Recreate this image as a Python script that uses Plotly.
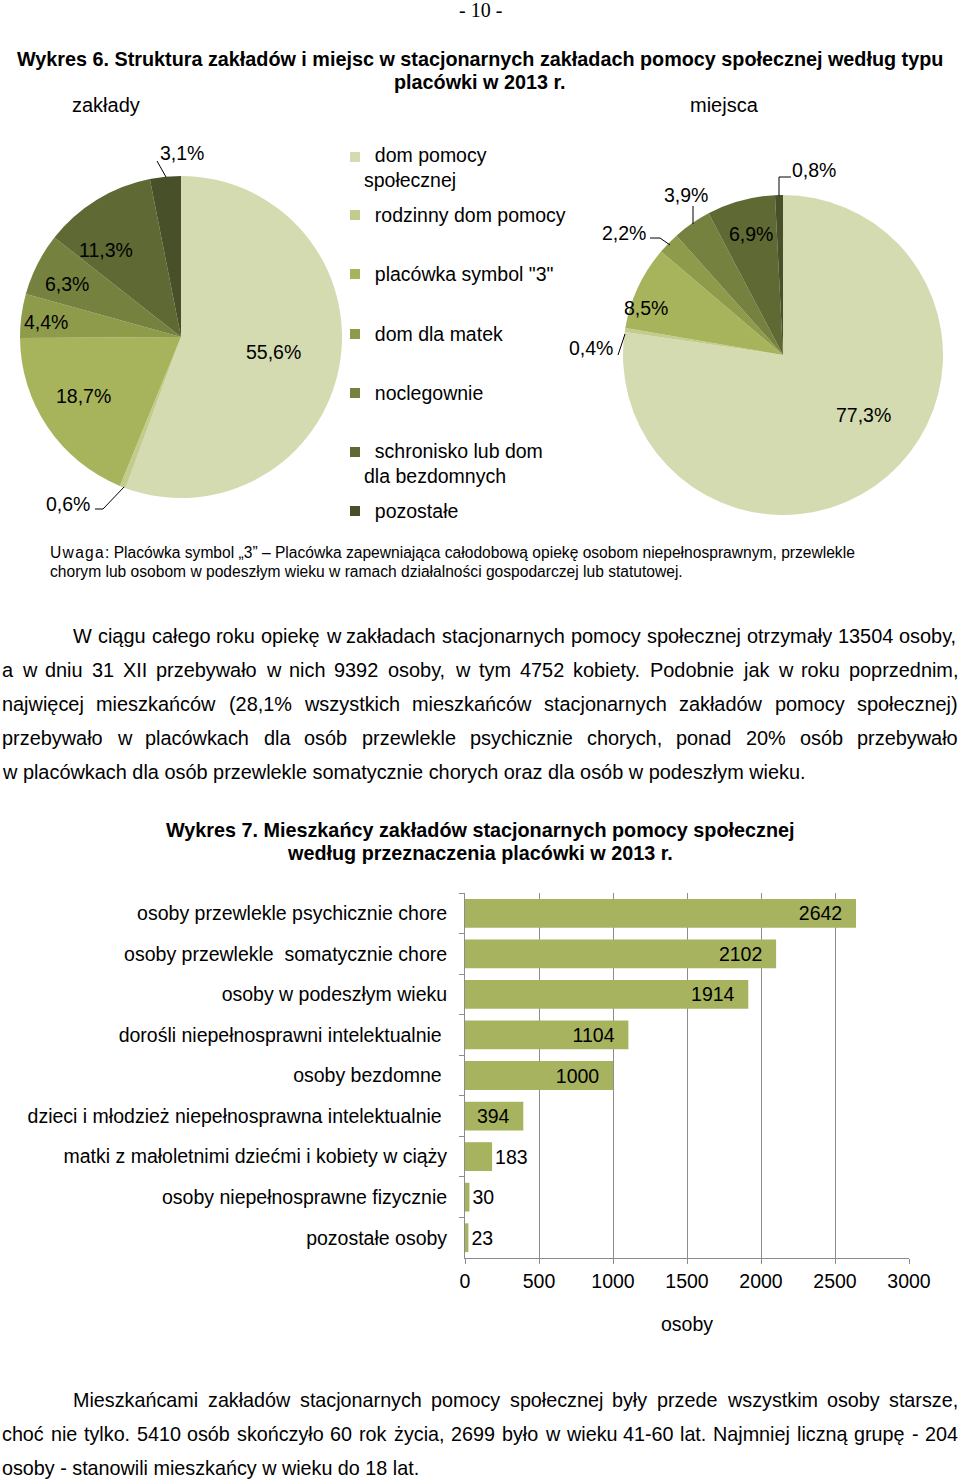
import plotly.graph_objects as go

W, H = 960, 1482

# ---------------- data ----------------
facility_types = ["dom pomocy społecznej", "rodzinny dom pomocy", 'placówka symbol "3"',
                  "dom dla matek", "noclegownie", "schronisko lub dom dla bezdomnych", "pozostałe"]
legend_labels = ["dom pomocy<br>społecznej", "rodzinny dom pomocy", 'placówka symbol "3"',
                 "dom dla matek", "noclegownie", "schronisko lub dom<br>dla bezdomnych", "pozostałe"]
share_zaklady = [55.6, 0.6, 18.7, 4.4, 6.3, 11.3, 3.1]
share_miejsca = [77.3, 0.4, 8.5, 2.2, 3.9, 6.9, 0.8]
slice_colors = ["#D4DBB0", "#C3CC8D", "#A8B45C", "#8E9B4B", "#75823F", "#5E6933", "#48502A"]

resident_groups = ["osoby przewlekle psychicznie chore",
                   "osoby przewlekle\u00a0 somatycznie chore",
                   "osoby w podeszłym wieku",
                   "dorośli niepełnosprawni intelektualnie\u00a0",
                   "osoby bezdomne\u00a0",
                   "dzieci i młodzież niepełnosprawna intelektualnie\u00a0",
                   "matki z małoletnimi dziećmi i kobiety w ciąży",
                   "osoby niepełnosprawne fizycznie",
                   "pozostałe osoby"]
residents = [2642, 2102, 1914, 1104, 1000, 394, 183, 30, 23]
x_ticks = [0, 500, 1000, 1500, 2000, 2500, 3000]
bar_color = "#A7B35F"

# ---------------- text ----------------
title6 = ["Wykres 6. Struktura zakładów i miejsc w stacjonarnych zakładach pomocy społecznej według typu",
          "placówki w 2013 r."]
note_lines = ["U\u200aw\u200aa\u200ag\u200aa\u200a: Placówka symbol „3” – Placówka zapewniająca całodobową opiekę osobom niepełnosprawnym, przewlekle",
              "chorym lub osobom w podeszłym wieku w ramach działalności gospodarczej lub statutowej."]
para1 = ["W ciągu całego roku opiekę w zakładach stacjonarnych pomocy społecznej otrzymały 13504 osoby,",
         "a w dniu 31 XII przebywało w nich 9392 osoby, w tym 4752 kobiety.  Podobnie jak w roku poprzednim,",
         "najwięcej mieszkańców (28,1% wszystkich mieszkańców stacjonarnych zakładów pomocy społecznej)",
         "przebywało w placówkach dla osób przewlekle psychicznie chorych, ponad 20% osób przebywało",
         "w placówkach dla osób przewlekle somatycznie chorych oraz dla osób w podeszłym wieku."]
title7 = ["Wykres 7. Mieszkańcy zakładów stacjonarnych pomocy społecznej",
          "według przeznaczenia placówki w 2013 r."]
para2 = ["Mieszkańcami zakładów stacjonarnych pomocy społecznej były przede wszystkim osoby starsze,",
         "choć nie tylko. 5410 osób skończyło 60 rok życia, 2699 było w wieku 41-60 lat. Najmniej liczną grupę - 204",
         "osoby - stanowili mieszkańcy w wieku do 18 lat."]

SANS = "Liberation Sans, Arial, sans-serif"
SERIF = "Liberation Serif, Times New Roman, serif"
BLACK = "#000000"


def px(x):
    return x / W


def py(y):
    return 1 - y / H


AW = {}
for c, w in zip("abcdefghijklmnopqrstuvwxyz",
                [556, 556, 500, 556, 556, 278, 556, 556, 222, 222, 500, 222, 833, 556, 556, 556, 556, 333, 500, 278, 556, 500, 722, 500, 500, 500]):
    AW[c] = w
for c, w in zip("ABCDEFGHIJKLMNOPQRSTUVWXYZ",
                [667, 667, 722, 722, 667, 611, 778, 722, 278, 500, 667, 556, 833, 722, 778, 667, 778, 722, 667, 611, 722, 667, 944, 667, 667, 611]):
    AW[c] = w
for c in "0123456789":
    AW[c] = 556
AW.update({" ": 278, ",": 278, ".": 278, "(": 333, ")": 333, "%": 889, "-": 333, ":": 278, '"': 355,
           "ą": 556, "ć": 500, "ę": 556, "ł": 222, "ń": 556, "ó": 556, "ś": 500, "ź": 500, "ż": 500})


def tw(s, size):
    return sum(AW.get(c, 556) for c in s) * size / 1000


annotations = []
shapes = []


def ann(text, x, y, size, family=SANS, xanchor="left", bold=False, align="left"):
    annotations.append(dict(text=text, x=px(x), y=py(y), xref="paper", yref="paper",
                            xanchor=xanchor, yanchor="middle", showarrow=False, align=align,
                            borderpad=0, borderwidth=0,
                            font=dict(size=size, family=family, color=BLACK,
                                      weight="bold" if bold else "normal")))


def text_line(text, x0, x1, y, size, justify):
    if not justify:
        ann(text, x0, y, size)
        return
    words = text.split()
    widths = [tw(w, size) for w in words]
    gap = (x1 - x0 - sum(widths)) / (len(words) - 1)
    x = x0
    for w, wd in zip(words, widths):
        ann(w, x, y, size)
        x += wd + gap


# page header / titles
ann("- 10 -", 480, 10, 20, SERIF, xanchor="center")
ann(title6[0], 480, 59, 19.8, xanchor="center", bold=True)
ann(title6[1], 480, 82, 19.8, xanchor="center", bold=True)
ann("zakłady", 106, 105, 20, xanchor="center")
ann("miejsca", 724, 105, 20, xanchor="center")

# pies
fig = go.Figure()
fig.add_trace(go.Pie(values=share_zaklady, labels=facility_types, sort=False, direction="clockwise",
                     rotation=0, marker=dict(colors=slice_colors, line=dict(width=0)),
                     textinfo="none", hoverinfo="skip", showlegend=False,
                     domain=dict(x=[px(20), px(342)], y=[py(498), py(176)])))
fig.add_trace(go.Pie(values=share_miejsca, labels=facility_types, sort=False, direction="clockwise",
                     rotation=0, marker=dict(colors=slice_colors, line=dict(width=0)),
                     textinfo="none", hoverinfo="skip", showlegend=False,
                     domain=dict(x=[px(623), px(943)], y=[py(515), py(195)])))


def pct(v):
    return f"{v:.1f}%".replace(".", ",")


left_label_pos = [(273, 352), (68, 504), (83, 396), (46, 322), (67, 284), (106, 250), (182, 153)]
right_label_pos = [(863, 415), (591, 348), (646, 308), (624, 233), (686, 195), (751, 234), (814, 170)]
for v, (x, y) in zip(share_zaklady, left_label_pos):
    ann(pct(v), x, y, 19.5, xanchor="center")
for v, (x, y) in zip(share_miejsca, right_label_pos):
    ann(pct(v), x, y, 19.5, xanchor="center")

leaders = [[(157, 161), (166, 177)],
           [(95, 509), (103, 509), (124, 487)],
           [(791, 177), (779, 177), (779, 196)],
           [(693, 206), (693, 224)],
           [(650, 238), (660, 238), (670, 245)],
           [(618, 355), (625, 334)]]
for pts in leaders:
    path = "M " + " L ".join(f"{px(x)},{py(y)}" for x, y in pts)
    shapes.append(dict(type="path", path=path, xref="paper", yref="paper",
                       line=dict(color=BLACK, width=1)))

# manual legend
legend_y = [168, 215, 274, 334, 393, 463, 511]
legend_sq_y = [157, 215, 274, 334, 393, 452, 511]
for lab, col, ly, sy in zip(legend_labels, slice_colors, legend_y, legend_sq_y):
    shapes.append(dict(type="rect", xref="paper", yref="paper",
                       x0=px(350), x1=px(360), y0=py(sy + 5), y1=py(sy - 5),
                       fillcolor=col, line=dict(width=0)))
    ann("\u00a0\u00a0" + lab, 364, ly, 19.5)

# note
for i, line in enumerate(note_lines):
    ann(line, 50, 552 + 19 * i, 15.6)

# paragraph 1
for i, line in enumerate(para1):
    x0 = 73 if i == 0 else 2
    text_line(line, x0, 958, 636 + 34 * i, 19.9, i < len(para1) - 1)

# title 7
ann(title7[0], 480, 830, 19.8, xanchor="center", bold=True)
ann(title7[1], 480, 853, 19.8, xanchor="center", bold=True)

# paragraph 2
for i, line in enumerate(para2):
    x0 = 73 if i == 0 else 2
    text_line(line, x0, 958, 1400 + 34 * i, 19.75, i < len(para2) - 1)

# bar chart
fig.add_trace(go.Bar(y=resident_groups, x=residents, orientation="h",
                     marker=dict(color=bar_color, line=dict(width=0)),
                     text=[str(v) + "\u00a0\u00a0" for v in residents], textposition="auto",
                     insidetextanchor="end", textangle=0,
                     insidetextfont=dict(size=19.5, family=SANS, color=BLACK),
                     outsidetextfont=dict(size=19.5, family=SANS, color=BLACK),
                     hoverinfo="skip", showlegend=False, cliponaxis=False))

fig.update_layout(
    template="none",
    width=W, height=H, autosize=False,
    margin=dict(l=0, r=0, t=0, b=0, pad=0, autoexpand=False),
    paper_bgcolor="white", plot_bgcolor="white",
    bargap=0.29,
    xaxis=dict(domain=[px(465), px(909)], range=[0, 3000], tickvals=x_ticks, automargin=False,
               showgrid=True, gridcolor="#8C8C8C", gridwidth=1, zeroline=False,
               showline=True, linecolor="#8C8C8C", linewidth=1,
               ticks="outside", ticklen=5, tickcolor="#8C8C8C",
               tickfont=dict(size=19.5, family=SANS, color=BLACK), ticklabelstandoff=1,
               title=dict(text="osoby", font=dict(size=19.5, family=SANS, color=BLACK), standoff=25),
               fixedrange=True),
    yaxis=dict(domain=[py(1258), py(893)], categoryorder="array", categoryarray=resident_groups,
               autorange="reversed", showgrid=False, zeroline=False, automargin=False,
               showline=True, linecolor="#8C8C8C", linewidth=1,
               ticks="outside", ticklen=5, tickcolor="#8C8C8C", tickson="boundaries",
               tickfont=dict(size=19.5, family=SANS, color=BLACK), ticklabelstandoff=13,
               fixedrange=True),
    annotations=annotations,
    shapes=shapes,
)

fig.write_html("out.html", config={"responsive": False, "displayModeBar": False},
               post_script="document.body.style.margin='0px';document.body.style.padding='0px';"
                           "document.body.style.overflow='hidden';"
                           "document.documentElement.style.overflow='hidden';")
